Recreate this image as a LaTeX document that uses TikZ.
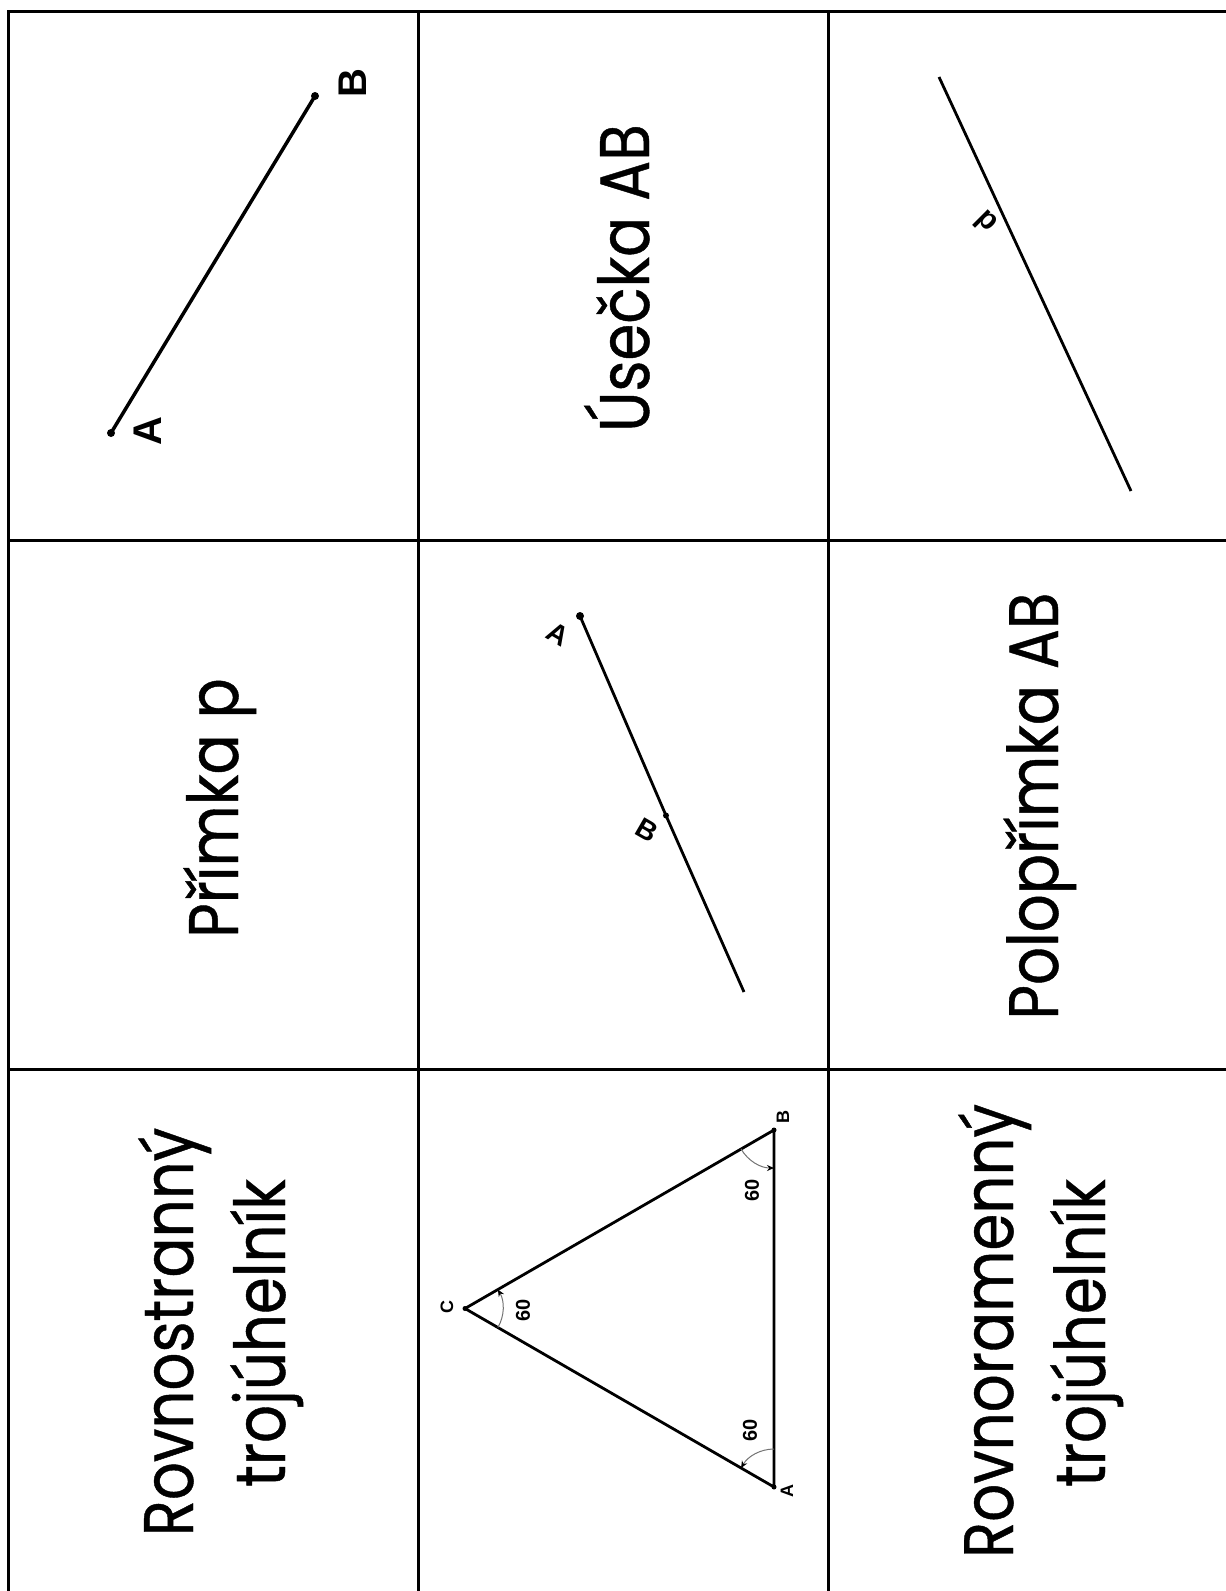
\documentclass[tikz,border=0pt]{standalone}
\usepackage{fontspec}
\setmainfont{Liberation Sans}
\newfontfamily\cardfont[FakeStretch=0.85, FakeBold=0.6]{Poppins}
\usetikzlibrary{arrows.meta}

\tikzset{
	card/.style={rotate=90, anchor=base, inner sep=0, font=\cardfont\fontsize{70}{84}\selectfont},
	ptname/.style={inner sep=0, font=\bfseries\fontsize{#1}{#1}\selectfont},
	ptname/.default=40,
	pt/.style={circle, fill=black, inner sep=0, minimum size=#1},
	pt/.default=8,
	grid/.style={line width=3, line cap=square},
	angmark/.style={draw=black!55, line width=1, -{Stealth[black, length=7, width=6]}}
}

\begin{document}
\begin{tikzpicture}[x=1pt, y=-1pt]
	\useasboundingbox (0,0) rectangle (1226,1591);
	\clip (0,0) rectangle (1226,1591);
	% table
	\draw [grid] (8.5,1600) -- (8.5,11) -- (1240,11);
	\foreach \x in {418,828} {
		\draw [grid] (\x,11) -- (\x,1600);
	}
	\foreach \y in {540,1069.5} {
		\draw [grid] (8.5,\y) -- (1240,\y);
	}

	% segment AB
	\node [pt] (segA) at (111,433) {};
	\node [pt] (segB) at (315,96) {};
	\draw [line width=3.5] (segA.center) -- (segB.center);
	\node [ptname, rotate=90] (segAlab) at (148,431) {A};
	\node [ptname, rotate=90] (segBlab) at (353,83) {B};
	\node [card] (usecka) at (649,278) {Úsečka AB};

	% line p
	\coordinate (lineP1) at (939,77);
	\coordinate (lineP2) at (1131,491);
	\draw [line width=2.8] (lineP1) -- (lineP2);
	\node [ptname=30, rotate=-45] (lineplab) at (985,222) {p};

	% ray AB
	\node [card] (primka) at (238,808) {Přímka p};
	\node [pt=8] (rayA) at (580,616) {};
	\node [pt=6] (rayB) at (666,815.5) {};
	\coordinate (rayEnd) at (744,992);
	\draw [line width=2.8] (rayA.center) -- (rayB.center) -- (rayEnd);
	\node [ptname=28, rotate=-30] (rayAlab) at (558,634) {A};
	\node [ptname=28, rotate=-30] (rayBlab) at (647,830) {B};
	\node [card] (poloprimka) at (1058,806) {Polopřímka AB};

	% equilateral triangle
	\node [card] (rovnostr1) at (193,1332) {Rovnostranný};
	\node [card] (rovnostr2) at (285,1333) {trojúhelník};
	\node [pt=5] (triA) at (774,1487) {};
	\node [pt=5] (triB) at (774,1130) {};
	\node [pt=5] (triC) at (465,1308.5) {};
	\draw [line width=2.8, line join=round] (triA.center) -- (triB.center) -- (triC.center) -- cycle;
	\draw [angmark] (triC.center) ++(30:38) arc[start angle=30, end angle=-30, radius=38];
	\draw [angmark] (triB.center) ++(150:38) arc[start angle=150, end angle=90, radius=38];
	\draw [angmark] (triA.center) ++(270:38) arc[start angle=270, end angle=210, radius=38];
	\node [ptname=18, rotate=90] (triAlab) at (787,1491) {A};
	\node [ptname=18, rotate=90] (triBlab) at (783,1117) {B};
	\node [ptname=18, rotate=90] (triClab) at (447,1307) {C};
	\node [ptname=20, rotate=90] (angC) at (523,1310) {60};
	\node [ptname=20, rotate=90] (angB) at (752,1190) {60};
	\node [ptname=20, rotate=90] (angA) at (750,1430) {60};

	% isosceles
	\node [card] (rovnoram1) at (1013,1331) {Rovnoramenný};
	\node [card] (rovnoram2) at (1105,1333) {trojúhelník};
\end{tikzpicture}
\end{document}
